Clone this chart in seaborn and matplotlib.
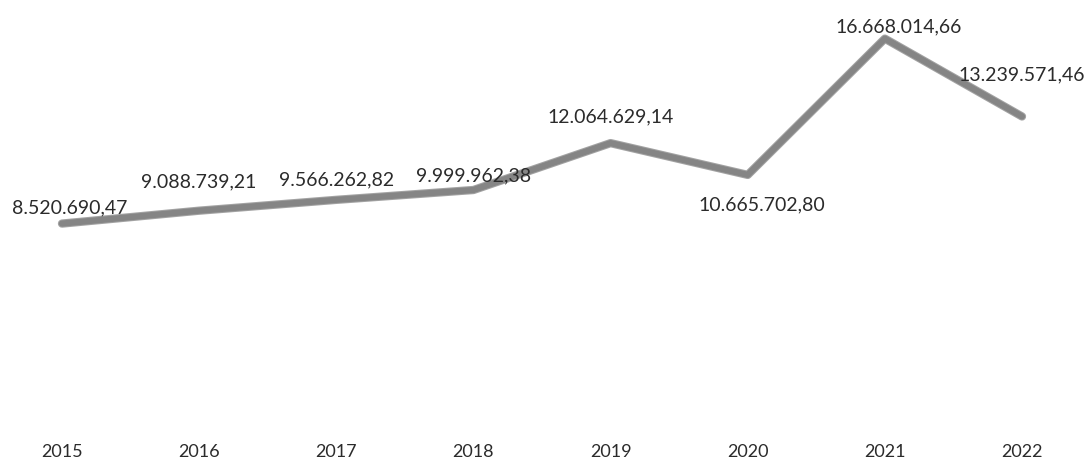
import numpy as np
import pandas as pd
import matplotlib
matplotlib.use("Agg")
import matplotlib.pyplot as plt
import matplotlib.patheffects as pe
import seaborn as sns

years = ["2015", "2016", "2017", "2018", "2019", "2020", "2021", "2022"]
values = [8520690.47, 9088739.21, 9566262.82, 9999962.38,
          12064629.14, 10665702.80, 16668014.66, 13239571.46]
labels = ["8.520.690,47", "9.088.739,21", "9.566.262,82", "9.999.962,38",
          "12.064.629,14", "10.665.702,80", "16.668.014,66", "13.239.571,46"]

# label offsets in pixels (layout only)
label_dx = [8, 0, 0, 0, 0, 14, 14, 0]
label_dy = [17, 30, 21, 15, 27, -29, 13, 43]

sns.set_theme(style="white")
plt.rcParams['font.family'] = ['Lato', 'DejaVu Sans']

df = pd.DataFrame({"pos": np.arange(len(years)), "value": values})

fig = plt.figure(figsize=(10.88, 4.6), dpi=100)
ax = fig.add_axes([0, (460 - 418) / 460, 1, 398 / 460])
sns.lineplot(data=df, x="pos", y="value", ax=ax, color="#858585", linewidth=4.5,
             path_effects=[pe.Stroke(linewidth=6, foreground="#666666", alpha=0.6), pe.Normal()])

ax.set_xlim(-62 / 137.14, 7 + 66 / 137.14)
ax.set_ylim(0, 398 / 22.7 * 1e6)

for i, (v, lab) in enumerate(zip(values, labels)):
    ax.annotate(lab, xy=(i, v), xytext=(label_dx[i], label_dy[i]),
                textcoords="offset pixels", ha="center", va="center",
                fontsize=14, color="#2b2b2b")

ax.set_xticks(np.arange(len(years)))
ax.set_xticklabels(years, fontsize=13, color="#2b2b2b")
ax.tick_params(axis="x", length=0, pad=19)
ax.set_yticks([])
ax.set_xlabel("")
ax.set_ylabel("")
for s in ax.spines.values():
    s.set_visible(False)

fig.savefig("out.png", dpi=100, facecolor="white")
